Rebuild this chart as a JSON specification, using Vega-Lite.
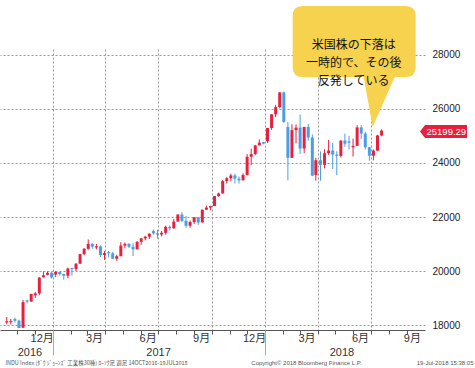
{
  "$schema": "https://vega.github.io/schema/vega-lite/v6.json",
  "width": 425,
  "height": 281,
  "autosize": "none",
  "padding": {"left": 0, "top": 49, "right": 50, "bottom": 38},
  "background": "white",
  "config": {"view": {"stroke": null}, "font": "Liberation Sans"},
  "datasets": {
    "weekly": [
      {"date": "2016-10-14", "open": 18090, "high": 18300, "low": 18030, "close": 18138},
      {"date": "2016-10-21", "open": 18100, "high": 18225, "low": 18020, "close": 18145},
      {"date": "2016-10-28", "open": 18220, "high": 18275, "low": 18090, "close": 18161},
      {"date": "2016-11-04", "open": 18161, "high": 18200, "low": 17884, "close": 17888},
      {"date": "2016-11-11", "open": 17900, "high": 18934, "low": 17890, "close": 18847},
      {"date": "2016-11-18", "open": 18910, "high": 18935, "low": 18800, "close": 18868},
      {"date": "2016-11-25", "open": 18870, "high": 19153, "low": 18860, "close": 19152},
      {"date": "2016-12-02", "open": 19100, "high": 19225, "low": 19000, "close": 19170},
      {"date": "2016-12-09", "open": 19170, "high": 19775, "low": 19100, "close": 19757},
      {"date": "2016-12-16", "open": 19770, "high": 19987, "low": 19754, "close": 19843},
      {"date": "2016-12-23", "open": 19860, "high": 19988, "low": 19830, "close": 19934},
      {"date": "2016-12-30", "open": 19934, "high": 19981, "low": 19718, "close": 19763},
      {"date": "2017-01-06", "open": 19872, "high": 19999, "low": 19775, "close": 19964},
      {"date": "2017-01-13", "open": 19964, "high": 19973, "low": 19834, "close": 19886},
      {"date": "2017-01-20", "open": 19886, "high": 19900, "low": 19677, "close": 19827},
      {"date": "2017-01-27", "open": 19827, "high": 20125, "low": 19732, "close": 20094},
      {"date": "2017-02-03", "open": 20110, "high": 20125, "low": 19830, "close": 20071},
      {"date": "2017-02-10", "open": 20071, "high": 20298, "low": 19999, "close": 20269},
      {"date": "2017-02-17", "open": 20269, "high": 20639, "low": 20269, "close": 20624},
      {"date": "2017-02-24", "open": 20624, "high": 20851, "low": 20580, "close": 20822},
      {"date": "2017-03-03", "open": 20822, "high": 21169, "low": 20785, "close": 21005},
      {"date": "2017-03-10", "open": 21005, "high": 21029, "low": 20824, "close": 20903},
      {"date": "2017-03-17", "open": 20870, "high": 21000, "low": 20800, "close": 20914},
      {"date": "2017-03-24", "open": 20914, "high": 20953, "low": 20517, "close": 20596},
      {"date": "2017-03-31", "open": 20596, "high": 20740, "low": 20412, "close": 20663},
      {"date": "2017-04-07", "open": 20700, "high": 20739, "low": 20504, "close": 20656},
      {"date": "2017-04-14", "open": 20656, "high": 20704, "low": 20453, "close": 20453},
      {"date": "2017-04-21", "open": 20453, "high": 20605, "low": 20379, "close": 20548},
      {"date": "2017-04-28", "open": 20548, "high": 21070, "low": 20548, "close": 20940},
      {"date": "2017-05-05", "open": 20940, "high": 21053, "low": 20840, "close": 21007},
      {"date": "2017-05-12", "open": 21007, "high": 21019, "low": 20850, "close": 20897},
      {"date": "2017-05-19", "open": 20897, "high": 21033, "low": 20553, "close": 20804},
      {"date": "2017-05-26", "open": 20804, "high": 21112, "low": 20800, "close": 21080},
      {"date": "2017-06-02", "open": 21080, "high": 21226, "low": 20970, "close": 21206},
      {"date": "2017-06-09", "open": 21206, "high": 21305, "low": 21134, "close": 21272},
      {"date": "2017-06-16", "open": 21272, "high": 21392, "low": 21187, "close": 21384},
      {"date": "2017-06-23", "open": 21480, "high": 21535, "low": 21340, "close": 21395},
      {"date": "2017-06-30", "open": 21395, "high": 21529, "low": 21197, "close": 21350},
      {"date": "2017-07-07", "open": 21350, "high": 21480, "low": 21279, "close": 21414},
      {"date": "2017-07-14", "open": 21414, "high": 21681, "low": 21345, "close": 21638},
      {"date": "2017-07-21", "open": 21638, "high": 21681, "low": 21500, "close": 21580},
      {"date": "2017-07-28", "open": 21580, "high": 21929, "low": 21567, "close": 21830},
      {"date": "2017-08-04", "open": 21830, "high": 22092, "low": 21830, "close": 22092},
      {"date": "2017-08-11", "open": 22092, "high": 22179, "low": 21810, "close": 21858},
      {"date": "2017-08-18", "open": 21858, "high": 22036, "low": 21600, "close": 21675},
      {"date": "2017-08-25", "open": 21675, "high": 21868, "low": 21600, "close": 21814},
      {"date": "2017-09-01", "open": 21814, "high": 22000, "low": 21745, "close": 21988},
      {"date": "2017-09-08", "open": 21988, "high": 21990, "low": 21709, "close": 21798},
      {"date": "2017-09-15", "open": 21798, "high": 22275, "low": 21798, "close": 22268},
      {"date": "2017-09-22", "open": 22268, "high": 22420, "low": 22268, "close": 22350},
      {"date": "2017-09-29", "open": 22350, "high": 22414, "low": 22250, "close": 22405},
      {"date": "2017-10-06", "open": 22405, "high": 22777, "low": 22405, "close": 22774},
      {"date": "2017-10-13", "open": 22774, "high": 22905, "low": 22750, "close": 22872},
      {"date": "2017-10-20", "open": 22872, "high": 23368, "low": 22866, "close": 23329},
      {"date": "2017-10-27", "open": 23329, "high": 23485, "low": 23240, "close": 23434},
      {"date": "2017-11-03", "open": 23434, "high": 23602, "low": 23320, "close": 23539},
      {"date": "2017-11-10", "open": 23539, "high": 23602, "low": 23242, "close": 23422},
      {"date": "2017-11-17", "open": 23422, "high": 23500, "low": 23242, "close": 23358},
      {"date": "2017-11-24", "open": 23358, "high": 23617, "low": 23358, "close": 23558},
      {"date": "2017-12-01", "open": 23558, "high": 24327, "low": 23539, "close": 24231},
      {"date": "2017-12-08", "open": 24231, "high": 24534, "low": 23921, "close": 24329},
      {"date": "2017-12-15", "open": 24329, "high": 24672, "low": 24288, "close": 24651},
      {"date": "2017-12-22", "open": 24651, "high": 24876, "low": 24651, "close": 24754},
      {"date": "2017-12-29", "open": 24770, "high": 24777, "low": 24690, "close": 24719},
      {"date": "2018-01-05", "open": 24809, "high": 25299, "low": 24741, "close": 25296},
      {"date": "2018-01-12", "open": 25296, "high": 25803, "low": 25225, "close": 25803},
      {"date": "2018-01-19", "open": 25803, "high": 26154, "low": 25694, "close": 26072},
      {"date": "2018-01-26", "open": 26072, "high": 26617, "low": 26024, "close": 26617},
      {"date": "2018-02-02", "open": 26617, "high": 26646, "low": 25490, "close": 25521},
      {"date": "2018-02-09", "open": 25337, "high": 25520, "low": 23360, "close": 24191},
      {"date": "2018-02-16", "open": 24191, "high": 25432, "low": 24191, "close": 25219},
      {"date": "2018-02-23", "open": 25219, "high": 25432, "low": 24727, "close": 25310},
      {"date": "2018-03-02", "open": 25310, "high": 25800, "low": 24338, "close": 24538},
      {"date": "2018-03-09", "open": 24538, "high": 25336, "low": 24360, "close": 25336},
      {"date": "2018-03-16", "open": 25336, "high": 25450, "low": 24825, "close": 24946},
      {"date": "2018-03-23", "open": 24946, "high": 25057, "low": 23509, "close": 23533},
      {"date": "2018-03-29", "open": 23557, "high": 24193, "low": 23344, "close": 24103},
      {"date": "2018-04-06", "open": 24103, "high": 24431, "low": 23345, "close": 23933},
      {"date": "2018-04-13", "open": 23933, "high": 24511, "low": 23800, "close": 24360},
      {"date": "2018-04-20", "open": 24360, "high": 24858, "low": 24300, "close": 24463},
      {"date": "2018-04-27", "open": 24463, "high": 24750, "low": 23778, "close": 24311},
      {"date": "2018-05-04", "open": 24311, "high": 24435, "low": 23550, "close": 24263},
      {"date": "2018-05-11", "open": 24263, "high": 24838, "low": 24200, "close": 24831},
      {"date": "2018-05-18", "open": 24831, "high": 25086, "low": 24600, "close": 24715},
      {"date": "2018-05-25", "open": 24800, "high": 25010, "low": 24500, "close": 24753},
      {"date": "2018-06-01", "open": 24580, "high": 24900, "low": 24240, "close": 24635},
      {"date": "2018-06-08", "open": 24635, "high": 25400, "low": 24635, "close": 25317},
      {"date": "2018-06-15", "open": 25317, "high": 25402, "low": 24889, "close": 25090},
      {"date": "2018-06-22", "open": 25090, "high": 25150, "low": 24500, "close": 24581},
      {"date": "2018-06-29", "open": 24581, "high": 24600, "low": 24084, "close": 24271},
      {"date": "2018-07-06", "open": 24271, "high": 24500, "low": 24100, "close": 24456},
      {"date": "2018-07-13", "open": 24456, "high": 25046, "low": 24456, "close": 25019},
      {"date": "2018-07-20", "open": 25019, "high": 25243, "low": 24990, "close": 25199.29}
    ],
    "last": [{"close": 25199.29}],
    "note": [{"lines": ["米国株の下落は", "一時的で、その後", "反発している"]}]
  },
  "resolve": {"axis": {"x": "independent", "y": "independent"}},
  "layer": [
    {
      "data": {"name": "weekly"},
      "mark": {"type": "rule", "strokeWidth": 1},
      "encoding": {
        "x": {
          "field": "date", "type": "temporal",
          "scale": {"domain": [{"year": 2016, "month": 10, "date": 11, "utc": true}, {"year": 2018, "month": 9, "date": 24, "utc": true}]},
          "axis": {
            "orient": "bottom",
            "values": [
              {"year": 2016, "month": 11, "date": 1, "utc": true}, {"year": 2016, "month": 12, "date": 1, "utc": true},
              {"year": 2017, "month": 1, "date": 1, "utc": true}, {"year": 2017, "month": 2, "date": 1, "utc": true},
              {"year": 2017, "month": 3, "date": 1, "utc": true}, {"year": 2017, "month": 4, "date": 1, "utc": true},
              {"year": 2017, "month": 5, "date": 1, "utc": true}, {"year": 2017, "month": 6, "date": 1, "utc": true},
              {"year": 2017, "month": 7, "date": 1, "utc": true}, {"year": 2017, "month": 8, "date": 1, "utc": true},
              {"year": 2017, "month": 9, "date": 1, "utc": true}, {"year": 2017, "month": 10, "date": 1, "utc": true},
              {"year": 2017, "month": 11, "date": 1, "utc": true}, {"year": 2017, "month": 12, "date": 1, "utc": true},
              {"year": 2018, "month": 1, "date": 1, "utc": true}, {"year": 2018, "month": 2, "date": 1, "utc": true},
              {"year": 2018, "month": 3, "date": 1, "utc": true}, {"year": 2018, "month": 4, "date": 1, "utc": true},
              {"year": 2018, "month": 5, "date": 1, "utc": true}, {"year": 2018, "month": 6, "date": 1, "utc": true},
              {"year": 2018, "month": 7, "date": 1, "utc": true}, {"year": 2018, "month": 8, "date": 1, "utc": true},
              {"year": 2018, "month": 9, "date": 1, "utc": true}
            ],
            "labels": false,
            "ticks": true, "tickSize": 4, "tickColor": "#555555", "tickWidth": 1,
            "domain": true, "domainColor": "#555555", "domainWidth": 1,
            "grid": true, "gridDash": [2, 2], "gridColor": "#999999",
            "gridOpacity": {"condition": {"test": "utcmonth(datum.value) % 3 == 0", "value": 1}, "value": 0},
            "title": "INDU Index (ﾀﾞｳ ｼﾞｮｰﾝｽﾞ 工業株30種) ﾛｰｿｸ足  週足 14OCT2016-19JUL2018",
            "titleFont": "Noto Sans CJK JP", "titleFontSize": 5.5, "titleFontWeight": "normal", "titleColor": "#555555",
            "titleX": 5, "titleY": 32, "titleAlign": "left", "titleBaseline": "middle", "titleAnchor": "start"
          }
        },
        "y": {
          "field": "low", "type": "quantitative",
          "scale": {"domain": [17815, 28222], "zero": false, "nice": false},
          "axis": {
            "orient": "right", "values": [18000, 20000, 22000, 24000, 26000, 28000],
            "grid": true, "gridDash": [2, 2], "gridColor": "#999999",
            "ticks": false, "domain": false, "labelPadding": 7, "labelFontSize": 10,
            "labelColor": "#222222", "format": "d", "title": null, "labelFont": "Liberation Sans"
          }
        },
        "y2": {"field": "high"},
        "color": {"condition": {"test": "datum.close >= datum.open", "value": "#e8203f"}, "value": "#4a9de6"}
      }
    },
    {
      "data": {"name": "weekly"},
      "mark": {"type": "bar", "size": 3},
      "encoding": {
        "x": {
          "field": "date", "type": "temporal",
          "scale": {"domain": [{"year": 2016, "month": 10, "date": 11, "utc": true}, {"year": 2018, "month": 9, "date": 24, "utc": true}]},
          "axis": {
            "orient": "bottom",
            "values": [
              {"year": 2016, "month": 12, "date": 13, "utc": true}, {"year": 2017, "month": 3, "date": 13, "utc": true},
              {"year": 2017, "month": 6, "date": 13, "utc": true}, {"year": 2017, "month": 9, "date": 13, "utc": true},
              {"year": 2017, "month": 12, "date": 13, "utc": true}, {"year": 2018, "month": 3, "date": 13, "utc": true},
              {"year": 2018, "month": 6, "date": 13, "utc": true}, {"year": 2018, "month": 9, "date": 10, "utc": true}
            ],
            "labelExpr": "(utcmonth(datum.value) + 1) + '月'",
            "ticks": false, "domain": false, "grid": false,
            "labelFontSize": 11, "labelColor": "#333333", "labelPadding": 2,
            "labelFont": "Liberation Sans, Noto Sans CJK JP",
            "labelFlush": false, "labelOverlap": false, "labelBound": false,
            "title": "Copyright© 2018 Bloomberg Finance L.P.",
            "titleFont": "Liberation Sans", "titleFontSize": 6, "titleFontWeight": "normal", "titleColor": "#555555",
            "titleX": 306, "titleY": 32, "titleAlign": "center", "titleBaseline": "middle"
          }
        },
        "y": {"field": "open", "type": "quantitative", "scale": {"domain": [17815, 28222], "zero": false, "nice": false}, "axis": null},
        "y2": {"field": "close"},
        "color": {"condition": {"test": "datum.close >= datum.open", "value": "#e8203f"}, "value": "#4a9de6"}
      }
    },
    {
      "data": {"name": "last"},
      "mark": {"type": "point", "shape": "M 0 1 L 5 -5.5 L 47 -5.5 L 47 7.5 L 5 7.5 Z", "size": 4, "filled": true, "color": "#e8203f", "opacity": 1, "clip": false},
      "encoding": {
        "x": {
          "datum": {"year": 2018, "month": 9, "date": 24, "utc": true}, "type": "temporal",
          "scale": {"domain": [{"year": 2016, "month": 10, "date": 11, "utc": true}, {"year": 2018, "month": 9, "date": 24, "utc": true}]},
          "axis": {
            "orient": "bottom",
            "values": [
              {"year": 2016, "month": 11, "date": 22, "utc": true},
              {"year": 2017, "month": 7, "date": 1, "utc": true},
              {"year": 2018, "month": 5, "date": 12, "utc": true}
            ],
            "labelExpr": "utcyear(datum.value)",
            "ticks": false, "domain": false, "grid": false,
            "labelFontSize": 11, "labelColor": "#333333", "labelPadding": 16,
            "labelFlush": false, "labelOverlap": false, "labelBound": false,
            "title": "19-Jul-2018 15:38:05",
            "titleFont": "Liberation Sans", "titleFontSize": 6, "titleFontWeight": "normal", "titleColor": "#555555",
            "titleX": 473, "titleY": 32, "titleAlign": "right", "titleBaseline": "middle"
          }
        },
        "y": {"field": "close", "type": "quantitative", "scale": {"domain": [17815, 28222], "zero": false, "nice": false}, "axis": null}
      }
    },
    {
      "data": {"name": "last"},
      "mark": {"type": "text", "align": "left", "baseline": "middle", "dx": 6.5, "dy": 1, "color": "white", "fontSize": 9.5, "font": "Liberation Sans", "clip": false},
      "encoding": {
        "x": {
          "datum": {"year": 2018, "month": 9, "date": 24, "utc": true}, "type": "temporal",
          "scale": {"domain": [{"year": 2016, "month": 10, "date": 11, "utc": true}, {"year": 2018, "month": 9, "date": 24, "utc": true}]},
          "axis": {
            "orient": "bottom",
            "values": [{"year": 2017, "month": 1, "date": 1, "utc": true}, {"year": 2018, "month": 1, "date": 1, "utc": true}],
            "labels": false, "domain": false, "grid": false,
            "ticks": true, "tickSize": 25, "tickColor": "#aaaaaa", "tickWidth": 1,
            "title": null
          }
        },
        "y": {"field": "close", "type": "quantitative", "scale": {"domain": [17815, 28222], "zero": false, "nice": false}, "axis": null},
        "text": {"field": "close", "type": "quantitative", "format": ".2f"}
      }
    },
    {
      "data": {"name": "note"},
      "mark": {"type": "point", "shape": "M -51 -39 L 52 -39 Q 62 -39 62 -29 L 62 22 Q 62 32 52 32 L 41 32 L 19 82 L 10 32 L -51 32 Q -61 32 -61 22 L -61 -29 Q -61 -39 -51 -39 Z", "size": 4, "filled": true, "color": "#f6d24e", "opacity": 1, "clip": false},
      "encoding": {
        "x": {
          "datum": {"year": 2018, "month": 6, "date": 2, "utc": true}, "type": "temporal",
          "scale": {"domain": [{"year": 2016, "month": 10, "date": 11, "utc": true}, {"year": 2018, "month": 9, "date": 24, "utc": true}]},
          "axis": null
        },
        "y": {"datum": 28370, "type": "quantitative", "scale": {"domain": [17815, 28222], "zero": false, "nice": false}, "axis": null}
      }
    },
    {
      "data": {"name": "note"},
      "mark": {"type": "text", "align": "center", "baseline": "middle", "lineHeight": 18, "fontSize": 12, "font": "Noto Sans CJK JP", "color": "#111111", "clip": false},
      "encoding": {
        "x": {
          "datum": {"year": 2018, "month": 6, "date": 2, "utc": true}, "type": "temporal",
          "scale": {"domain": [{"year": 2016, "month": 10, "date": 11, "utc": true}, {"year": 2018, "month": 9, "date": 24, "utc": true}]},
          "axis": null
        },
        "y": {"datum": 28370, "type": "quantitative", "scale": {"domain": [17815, 28222], "zero": false, "nice": false}, "axis": null},
        "text": {"field": "lines"}
      }
    }
  ]
}
